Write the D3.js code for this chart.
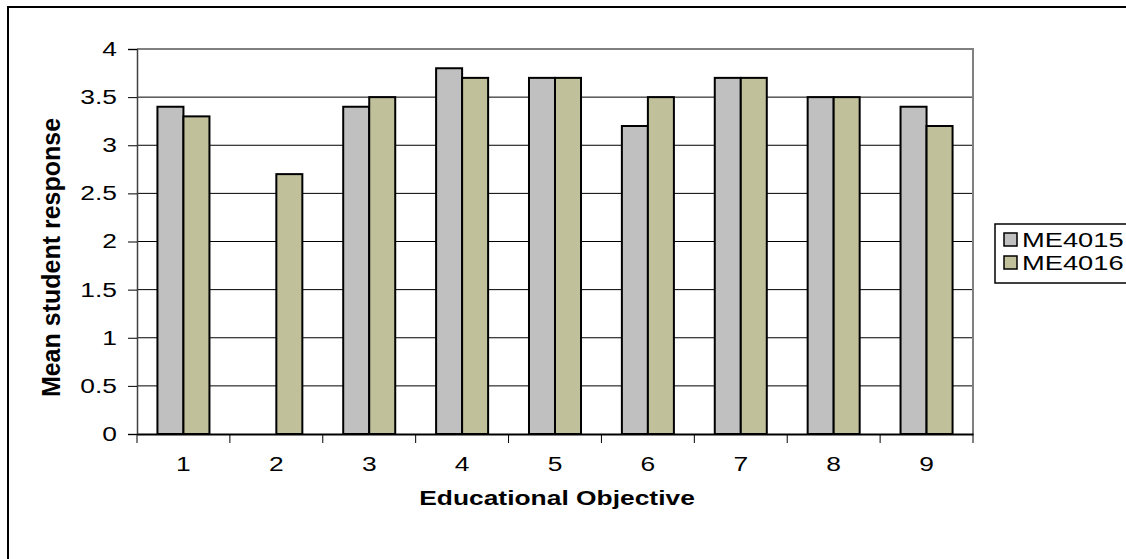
<!DOCTYPE html>
<html>
<head>
<meta charset="utf-8">
<script src="https://cdn.jsdelivr.net/npm/d3@7"></script>
<style>
  body { margin: 0; background: #fff; }
  text { font-family: "Liberation Sans", Arial, sans-serif; }
</style>
</head>
<body>
<div id="plot"></div>
<script>
var categories = ["1", "2", "3", "4", "5", "6", "7", "8", "9"];
var seriesNames = ["ME4015", "ME4016"];
var me4015 = [3.4, 0, 3.4, 3.8, 3.7, 3.2, 3.7, 3.5, 3.4];
var me4016 = [3.3, 2.7, 3.5, 3.7, 3.7, 3.5, 3.7, 3.5, 3.2];
var yTicks = [0, 0.5, 1, 1.5, 2, 2.5, 3, 3.5, 4];
var colors = ["#c0c0c0", "#c0c09a"];

var W = 1126, H = 559;
var margin = {top: 49, right: 153, bottom: 125, left: 137},
    width = W - margin.left - margin.right,
    height = H - margin.top - margin.bottom;

// the reference text is drawn wide, so horizontal text is stretched a bit
var stretch = 1.32;

var root = d3.select("#plot")
  .append("svg")
  .attr("width", W)
  .attr("height", H);

// outer frame
root.append("rect")
  .attr("x", 8).attr("y", 7)
  .attr("width", W + 20).attr("height", H + 20)
  .attr("fill", "none")
  .attr("stroke", "#000")
  .attr("stroke-width", 2);

var svg = root.append("g")
  .attr("transform", "translate(" + margin.left + "," + margin.top + ")");

var x0 = d3.scaleBand()
  .domain(categories)
  .range([0, width])
  .paddingInner(0.44)
  .paddingOuter(0.22);

var x1 = d3.scaleBand()
  .domain(seriesNames)
  .range([0, x0.bandwidth()]);

var y = d3.scaleLinear()
  .domain([0, 4])
  .range([height, 0]);

// gridlines
svg.append("g")
  .selectAll("line")
  .data(yTicks.filter(function(d) { return d > 0 && d < 4; }))
  .enter().append("line")
  .attr("x1", 0).attr("x2", width)
  .attr("y1", function(d) { return y(d); })
  .attr("y2", function(d) { return y(d); })
  .attr("stroke", "#000")
  .attr("stroke-width", 1);

// plot area border (top/right)
svg.append("path")
  .attr("d", "M0," + y(4) + "H" + width + "V" + height)
  .attr("fill", "none")
  .attr("stroke", "#808080")
  .attr("stroke-width", 2);

// bars
var rows = categories.map(function(c, i) {
  return {cat: c, vals: [me4015[i], me4016[i]]};
});

svg.append("g")
  .selectAll("g")
  .data(rows)
  .enter().append("g")
  .attr("transform", function(d) { return "translate(" + x0(d.cat) + ",0)"; })
  .selectAll("rect")
  .data(function(d) {
    return d.vals.map(function(v, j) { return {name: seriesNames[j], v: v, j: j}; })
      .filter(function(e) { return e.v > 0; });
  })
  .enter().append("rect")
  .attr("x", function(d) { return x1(d.name); })
  .attr("y", function(d) { return y(d.v); })
  .attr("width", x1.bandwidth())
  .attr("height", function(d) { return height - y(d.v); })
  .attr("fill", function(d) { return colors[d.j]; })
  .attr("stroke", "#000")
  .attr("stroke-width", 2);

// Y axis
var yAxis = svg.append("g")
  .call(d3.axisLeft(y).tickValues(yTicks).tickSize(9)
    .tickFormat(function(d) { return String(d); }));
yAxis.select(".domain").attr("stroke", "#404040").attr("stroke-width", 1.5);
yAxis.selectAll(".tick line").attr("stroke", "#000");
yAxis.selectAll("text")
  .style("font-size", "20px")
  .attr("fill", "#000")
  .attr("x", -20 / stretch)
  .attr("transform", "scale(" + stretch + ",1)");

// X axis
var xAxis = svg.append("g")
  .attr("transform", "translate(0," + height + ")")
  .call(d3.axisBottom(x0).tickSize(0).tickPadding(23));
xAxis.select(".domain").attr("stroke", "#000").attr("stroke-width", 2);
xAxis.selectAll("text")
  .style("font-size", "20px")
  .attr("fill", "#000")
  .attr("transform", "scale(" + stretch + ",1)");

// category boundary ticks
svg.append("g")
  .selectAll("line")
  .data(d3.range(categories.length + 1))
  .enter().append("line")
  .attr("x1", function(i) { return i * x0.step(); })
  .attr("x2", function(i) { return i * x0.step(); })
  .attr("y1", height)
  .attr("y2", height + 9)
  .attr("stroke", "#000");

// axis titles
svg.append("text")
  .attr("text-anchor", "middle")
  .attr("transform", "translate(" + (width / 2 + 2) + "," + (height + 71) + ") scale(" + stretch + ",1)")
  .style("font-size", "20px")
  .style("font-weight", "bold")
  .text("Educational Objective");

svg.append("text")
  .attr("text-anchor", "middle")
  .attr("transform", "translate(-77," + (height / 2 + 16) + ") rotate(-90)")
  .style("font-size", "25px")
  .style("font-weight", "bold")
  .text("Mean student response");

// legend
var legend = root.append("g").attr("transform", "translate(995,224)");
legend.append("rect")
  .attr("width", 160).attr("height", 59)
  .attr("fill", "#fff")
  .attr("stroke", "#000")
  .attr("stroke-width", 1.5);

var item = legend.selectAll(".item")
  .data(seriesNames)
  .enter().append("g")
  .attr("transform", function(d, i) { return "translate(0," + (15 + i * 23) + ")"; });

item.append("rect")
  .attr("x", 9).attr("y", -6)
  .attr("width", 13).attr("height", 13)
  .attr("fill", function(d, i) { return colors[i]; })
  .attr("stroke", "#000")
  .attr("stroke-width", 1.5);

item.append("text")
  .attr("x", 27 / 1.3)
  .attr("y", 8)
  .attr("transform", "scale(1.3,1)")
  .style("font-size", "21px")
  .text(function(d) { return d; });
</script>
</body>
</html>
